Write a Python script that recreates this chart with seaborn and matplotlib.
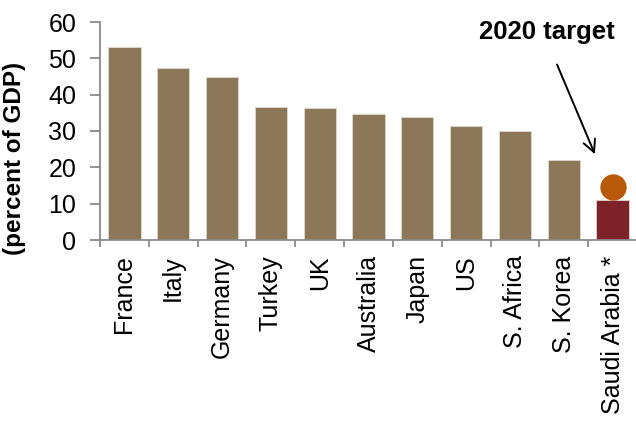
import matplotlib
matplotlib.use("Agg")
import matplotlib.pyplot as plt
import seaborn as sns
import numpy as np
import pandas as pd

countries = ["France", "Italy", "Germany", "Turkey", "UK", "Australia",
             "Japan", "US", "S. Africa", "S. Korea", "Saudi Arabia *"]
tax_share = [53.2, 47.4, 44.8, 36.6, 36.3, 34.8, 33.8, 31.5, 29.9, 21.9, 11.0]
target_2020 = 14.5
bar_colors = ["#8c7758"] * 10 + ["#7e2229"]

sns.set_theme(style="white")
plt.rcParams["font.family"] = ["Liberation Sans", "DejaVu Sans"]
plt.rcParams["text.color"] = "black"
plt.rcParams["axes.labelcolor"] = "black"
plt.rcParams["xtick.labelcolor"] = "black"
plt.rcParams["ytick.labelcolor"] = "black"

df = pd.DataFrame({"country": countries, "value": tax_share})

fig = plt.figure(figsize=(6.36, 4.25), dpi=100)
ax = fig.add_axes([100 / 636, 1 - 240 / 425, 537 / 636, 218 / 425])
sns.barplot(data=df, x="country", y="value", hue="country", palette=bar_colors,
            legend=False, width=0.66, saturation=1, edgecolor="#e0d8cc",
            linewidth=0.6, ax=ax)
ax.scatter([len(countries) - 1], [target_2020], s=360, color="#b85a0a", zorder=5,
           linewidths=0)

ax.set_xlim(-0.5, len(countries) - 0.5)
ax.set_ylim(0, 60)
ax.set_yticks(range(0, 61, 10))
ax.set_xticks(np.arange(-0.5, len(countries), 1), minor=True)
ax.set_xticks(range(len(countries)))
ax.set_xticklabels(countries, rotation=90, fontsize=18)

sns.despine(ax=ax)
for s in ["left", "bottom"]:
    ax.spines[s].set_color("#8a8a8a")
    ax.spines[s].set_linewidth(1.3)
ax.tick_params(axis="y", which="major", length=7, width=1.3, color="#8a8a8a",
               pad=10, labelsize=18, left=True)
ax.tick_params(axis="x", which="major", length=0, pad=11)
ax.tick_params(axis="x", which="minor", length=5, width=1.3, color="#8a8a8a",
               bottom=True)

ax.set_xlabel("")
ax.set_ylabel("(percent of GDP)", fontsize=17.5, fontweight="bold")
ax.yaxis.set_label_coords(-0.137, 0.376)

ax.text(8.66, 57.3, "2020 target", fontsize=18.5, fontweight="bold",
        ha="center", va="center")
ax.annotate("", xy=(9.66, 22.9), xytext=(8.84, 49.0),
            arrowprops=dict(arrowstyle="->", lw=1.4, color="black",
                            mutation_scale=22))

fig.savefig("out.png", dpi=100)
